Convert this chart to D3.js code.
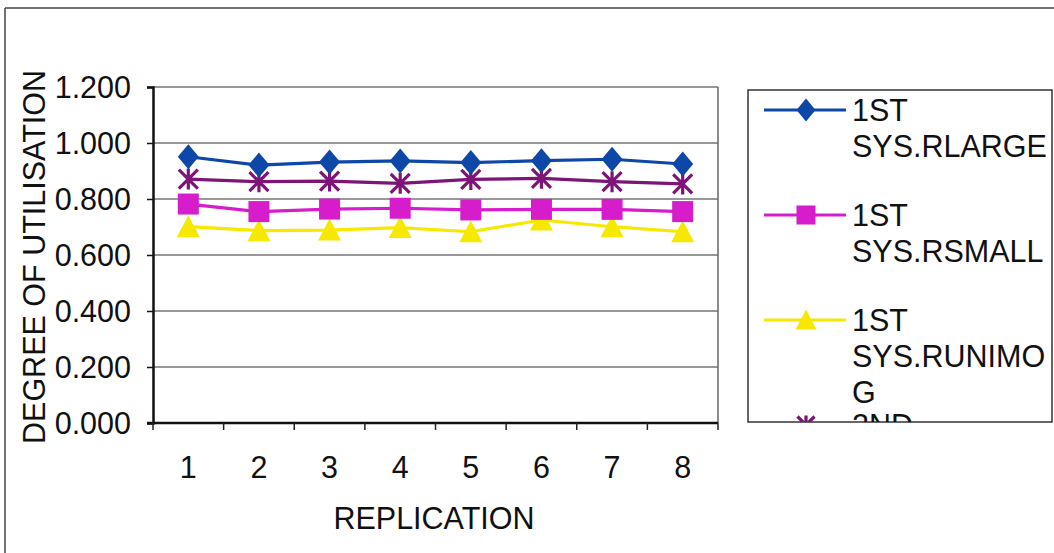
<!DOCTYPE html>
<html>
<head>
<meta charset="utf-8">
<script src="https://cdn.jsdelivr.net/npm/d3@7"></script>
<style>
  html, body { margin: 0; padding: 0; background: #fff; }
  svg { display: block; }
  text { font-family: "Liberation Sans", Arial, sans-serif; fill: #111; }
</style>
</head>
<body>
<svg id="chart" width="1054" height="553"></svg>
<script>
// Replication numbers along the x axis
const categories = [1, 2, 3, 4, 5, 6, 7, 8];

// Degree of utilisation for each resource
const rLarge1  = [0.951, 0.921, 0.932, 0.936, 0.930, 0.937, 0.942, 0.925];
const rSmall1  = [0.782, 0.755, 0.764, 0.767, 0.761, 0.763, 0.763, 0.755];
const rUnimog1 = [0.701, 0.687, 0.689, 0.698, 0.683, 0.725, 0.701, 0.683];
const rLarge2  = [0.871, 0.862, 0.864, 0.856, 0.870, 0.874, 0.862, 0.854];

// Legend labels (each inner array is one wrapped label)
const seriesLabels = [
  ["1ST", "SYS.RLARGE"],
  ["1ST", "SYS.RSMALL"],
  ["1ST", "SYS.RUNIMO", "G"],
  ["2ND", "SYS.RLARGE"]
];

const yTicks = [0, 0.2, 0.4, 0.6, 0.8, 1.0, 1.2];

const series = [
  { values: rLarge1,  color: "#0d47a8", marker: "diamond", label: seriesLabels[0] },
  { values: rSmall1,  color: "#d61ccb", marker: "square",  label: seriesLabels[1] },
  { values: rUnimog1, color: "#f7e800", marker: "triangle", label: seriesLabels[2] },
  { values: rLarge2,  color: "#7d1477", marker: "star",    label: seriesLabels[3] }
];

// Drawing order: purple star series sits under the others
const drawOrder = [3, 2, 1, 0];

const svg = d3.select("#chart");
const FONT = 30.5;

const plot = { left: 153, right: 718, top: 87, bottom: 423 };

const x = d3.scaleBand().domain(categories).range([plot.left, plot.right]);
const y = d3.scaleLinear().domain([0, 1.2]).range([plot.bottom, plot.top]);

// Outer chart frame (top and left edges)
svg.append("line").attr("x1", 5).attr("x2", 1054).attr("y1", 8).attr("y2", 8)
  .attr("stroke", "#444").attr("stroke-width", 1.5);
svg.append("line").attr("x1", 5).attr("x2", 5).attr("y1", 8).attr("y2", 553)
  .attr("stroke", "#444").attr("stroke-width", 1.5);

// Horizontal gridlines
svg.append("g").selectAll("line").data(yTicks.filter(d => d > 0)).join("line")
  .attr("x1", plot.left).attr("x2", plot.right)
  .attr("y1", d => y(d)).attr("y2", d => y(d))
  .attr("stroke", "#333").attr("stroke-width", 1.2);

// Right edge of plot area
svg.append("line").attr("x1", plot.right).attr("x2", plot.right)
  .attr("y1", plot.top).attr("y2", plot.bottom)
  .attr("stroke", "#666").attr("stroke-width", 1.5);

// Y axis
const yAxis = svg.append("g")
  .attr("transform", `translate(${plot.left},0)`)
  .call(d3.axisLeft(y).tickValues(yTicks).tickFormat(d3.format(".3f")).tickSize(6).tickPadding(16));
yAxis.select(".domain").attr("stroke", "#111").attr("stroke-width", 2.5);
yAxis.selectAll(".tick line").attr("stroke", "#111").attr("stroke-width", 1.5);
yAxis.selectAll(".tick text")
  .style("font-size", FONT + "px").style("font-family", "Liberation Sans, Arial, sans-serif")
  .attr("fill", "#111").attr("dy", "0.36em");

// X axis: labels at band centres, ticks at band boundaries
const xAxis = svg.append("g")
  .attr("transform", `translate(0,${plot.bottom})`)
  .call(d3.axisBottom(x).tickSize(0).tickPadding(33));
xAxis.select(".domain").remove();
xAxis.selectAll(".tick text")
  .style("font-size", FONT + "px").style("font-family", "Liberation Sans, Arial, sans-serif")
  .attr("fill", "#111");

svg.append("line").attr("x1", plot.left - 6).attr("x2", plot.right)
  .attr("y1", plot.bottom).attr("y2", plot.bottom)
  .attr("stroke", "#111").attr("stroke-width", 2.5);

const boundaries = categories.map(c => x(c)).concat([x.range()[1]]);
svg.append("g").selectAll("line").data(boundaries).join("line")
  .attr("x1", d => d).attr("x2", d => d)
  .attr("y1", plot.bottom).attr("y2", plot.bottom + 7)
  .attr("stroke", "#222").attr("stroke-width", 1.5);

// Axis titles
svg.append("text")
  .attr("x", 434).attr("y", 529)
  .attr("text-anchor", "middle").style("font-size", FONT + "px")
  .text("REPLICATION");

svg.append("text")
  .attr("transform", `translate(45,${257}) rotate(-90)`)
  .attr("text-anchor", "middle").style("font-size", FONT + "px")
  .text("DEGREE OF UTILISATION");

// Marker shapes
function drawMarker(g, type, color, size) {
  const h = size / 2;
  if (type === "diamond") {
    g.append("path").attr("d", `M0,${-h - 2}L${h},0L0,${h + 2}L${-h},0Z`).attr("fill", color);
  } else if (type === "square") {
    g.append("rect").attr("x", -h).attr("y", -h).attr("width", size).attr("height", size).attr("fill", color);
  } else if (type === "triangle") {
    g.append("path").attr("d", `M0,${-h - 1}L${h + 1},${h}L${-h - 1},${h}Z`).attr("fill", color);
  } else if (type === "star") {
    const s = h - 1;
    g.append("path")
      .attr("d", `M${-s},${-s}L${s},${s}M${-s},${s}L${s},${-s}M0,${-s - 1}L0,${s + 1}`)
      .attr("stroke", color).attr("stroke-width", 3.2).attr("fill", "none");
  }
}

const line = d3.line()
  .x((d, i) => x(categories[i]) + x.bandwidth() / 2)
  .y(d => y(d));

drawOrder.forEach(si => {
  const s = series[si];
  svg.append("path").datum(s.values)
    .attr("d", line).attr("fill", "none")
    .attr("stroke", s.color).attr("stroke-width", 3.2);
});
drawOrder.forEach(si => {
  const s = series[si];
  s.values.forEach((v, i) => {
    const g = svg.append("g")
      .attr("transform", `translate(${x(categories[i]) + x.bandwidth() / 2},${y(v)})`);
    drawMarker(g, s.marker, s.color, 21);
  });
});

// Legend box (bottom entry is cut off by the frame)
const legend = { left: 748, top: 90, right: 1052, bottom: 422 };
svg.append("defs").append("clipPath").attr("id", "legendClip")
  .append("rect").attr("x", legend.left).attr("y", legend.top)
  .attr("width", legend.right - legend.left).attr("height", legend.bottom - legend.top);

svg.append("rect")
  .attr("x", legend.left).attr("y", legend.top)
  .attr("width", legend.right - legend.left).attr("height", legend.bottom - legend.top)
  .attr("fill", "#fff").attr("stroke", "#333").attr("stroke-width", 1.5);

const lg = svg.append("g").attr("clip-path", "url(#legendClip)");
const entryStart = 110, entryStep = 105, lineH = 36;
series.forEach((s, i) => {
  const cy = entryStart + i * entryStep;
  lg.append("line").attr("x1", 764).attr("x2", 846).attr("y1", cy).attr("y2", cy)
    .attr("stroke", s.color).attr("stroke-width", 3.2);
  const g = lg.append("g").attr("transform", `translate(806,${cy})`);
  drawMarker(g, s.marker, s.color, 19);
  s.label.forEach((t, k) => {
    lg.append("text").attr("x", 852).attr("y", cy + k * lineH).attr("dy", "0.36em")
      .style("font-size", FONT + "px").text(t);
  });
});
</script>
</body>
</html>
